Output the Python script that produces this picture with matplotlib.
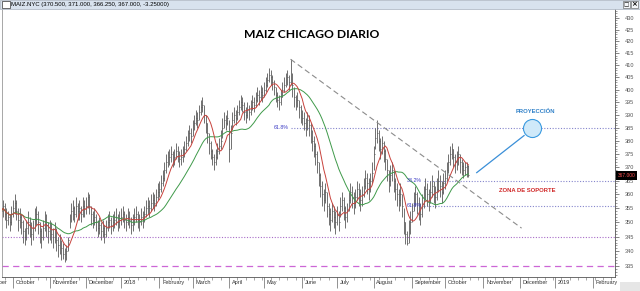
import numpy as np
import pandas as pd
import matplotlib
matplotlib.use("Agg")
import matplotlib.pyplot as plt
import matplotlib.transforms as mtransforms
from matplotlib.patches import Rectangle
from matplotlib.ticker import FixedLocator, FixedFormatter, NullFormatter

# Daily bars MAIZ.NYC, 21-Sep-2017 .. 19-Oct-2018 (one row per month)
high = [
    357, 358, 357, 355, 354, 353, 356,
    358, 360, 358, 355, 355, 353, 351, 348, 351, 354, 352, 350, 351, 355, 356, 354, 350, 348, 351, 354, 353, 350,
    351, 350, 348, 350, 348, 345, 346, 344, 343, 341, 342, 345, 353, 357, 358, 356, 359, 357, 358, 356, 359, 358,
    359, 361, 360, 356, 354, 355, 353, 351, 352, 350, 351, 349, 351, 353, 354, 352, 353, 354, 355, 353, 354,
    355, 356, 354, 353, 355, 354, 352, 353, 355, 356, 354, 353, 355, 354, 356, 358, 359, 358, 360, 361, 360, 362, 364,
    365, 367, 369, 372, 375, 376, 377, 378, 376, 377, 379, 378, 376, 377, 378, 380, 382, 384, 386, 385,
    388, 390, 392, 391, 394, 396, 397, 394, 390, 387, 383, 380, 377, 375, 377, 379, 381, 384, 389, 391, 390, 392,
    388, 386, 391, 393, 392, 394, 396, 398, 397, 395, 393, 395, 394, 396, 398, 397, 399, 401, 400, 402, 401,
    403, 405, 407, 409, 408, 406, 404, 401, 399, 398, 400, 403, 405, 407, 408, 406, 412.5, 407, 401, 398, 399, 396, 394,
    392, 391, 389, 391, 390, 387, 384, 382, 379, 376, 372, 368, 365, 362, 364, 361, 357, 355, 357, 356, 354,
    356, 354, 359, 361, 359, 356, 357, 361, 364, 363, 361, 362, 365, 364, 362, 363, 366, 369, 368, 366, 368, 372,
    378, 385, 388, 384, 381, 382, 380, 377, 373, 369, 371, 372, 369, 366, 364, 362, 364, 360, 355, 350, 347, 351, 354,
    357, 361, 363, 361, 359, 357, 360, 363, 366, 364, 362, 365, 367, 365, 363, 366, 369, 367, 365, 368,
    369, 372, 375, 378, 379, 377, 375, 376, 378, 375, 373, 372, 372, 372, 371,
]
low = [
    351, 352, 351, 348, 349, 347, 349,
    352, 353, 351, 347, 348, 346, 343, 342, 344, 346, 345, 342, 344, 347, 349, 346, 343, 341, 344, 347, 345, 343,
    344, 343, 341, 343, 340, 338, 339, 337, 337.5, 336.5, 337, 340, 348, 350, 351, 350, 352, 351, 351, 350, 352, 352,
    353, 355, 353, 349, 348, 349, 347, 345, 346, 344, 345, 343, 345, 347, 348, 346, 347, 348, 349, 347, 348,
    349, 350, 348, 347, 349, 348, 346, 347, 349, 350, 348, 347, 349, 348, 350, 352, 353, 352, 354, 355, 354, 356, 358,
    359, 361, 363, 365, 368, 370, 371, 372, 370, 371, 373, 372, 370, 371, 372, 374, 376, 378, 380, 379,
    382, 384, 386, 385, 388, 390, 391, 387, 383, 379, 375, 373, 371, 369, 371, 373, 375, 377, 381, 385, 384, 386,
    372, 377, 384, 387, 386, 388, 390, 392, 391, 388, 387, 389, 388, 390, 392, 391, 393, 395, 394, 396, 395,
    397, 399, 401, 403, 402, 400, 398, 395, 393, 392, 394, 397, 399, 401, 402, 400, 402, 397, 393, 392, 393, 389, 387,
    386, 384, 382, 384, 382, 379, 376, 374, 371, 368, 363, 359, 356, 354, 357, 352, 349, 347, 350, 348, 346,
    349, 347, 352, 354, 351, 348, 350, 354, 357, 355, 353, 355, 358, 356, 354, 356, 359, 362, 360, 358, 361, 364,
    369, 377, 379, 376, 373, 375, 372, 369, 365, 361, 363, 365, 361, 358, 356, 354, 356, 352, 346, 342.5, 342, 343, 346,
    350, 354, 356, 353, 351, 349, 352, 355, 358, 356, 354, 357, 359, 357, 355, 358, 361, 359, 357, 360,
    362, 365, 368, 371, 373, 370, 368, 369, 371, 368, 367, 366, 367, 366.5, 366.25,
]
close = [
    354, 356, 353, 351, 352, 350, 353,
    355, 357, 354, 351, 352, 350, 347, 345, 348, 350, 349, 346, 348, 351, 353, 350, 347, 345, 348, 351, 349, 347,
    348, 346, 345, 347, 344, 342, 343, 341, 339, 338, 340, 344, 351, 354, 355, 353, 356, 354, 355, 353, 356, 355,
    356, 359, 356, 353, 351, 352, 350, 348, 349, 347, 348, 346, 348, 350, 351, 349, 350, 351, 352, 350, 351,
    352, 353, 351, 350, 352, 351, 349, 350, 352, 353, 351, 350, 352, 351, 353, 355, 356, 355, 357, 358, 357, 359, 361,
    362, 364, 366, 369, 372, 373, 374, 375, 373, 374, 376, 375, 373, 374, 375, 377, 379, 381, 383, 382,
    385, 387, 389, 388, 391, 393, 394, 390, 387, 383, 379, 376, 374, 372, 374, 376, 378, 380, 385, 388, 387, 389,
    377, 383, 388, 390, 389, 391, 393, 395, 394, 391, 390, 392, 391, 393, 395, 394, 396, 398, 397, 399, 398,
    400, 402, 404, 406, 405, 403, 401, 398, 396, 395, 397, 400, 402, 404, 405, 403, 408, 402, 397, 395, 396, 393, 391,
    389, 387, 385, 388, 386, 383, 380, 378, 375, 372, 367, 363, 360, 358, 361, 356, 353, 351, 354, 352, 350,
    353, 350, 356, 358, 355, 352, 354, 358, 361, 359, 357, 359, 362, 360, 358, 360, 363, 366, 364, 362, 365, 368,
    375, 381, 383, 380, 377, 379, 376, 373, 369, 365, 367, 369, 365, 362, 360, 358, 360, 356, 350, 346, 343, 347, 350,
    354, 358, 360, 357, 355, 353, 356, 359, 362, 360, 358, 361, 363, 361, 359, 362, 365, 363, 361, 364,
    366, 369, 372, 375, 377, 374, 372, 373, 375, 372, 370.5, 369, 370, 370.5, 367,
]

first_day = "2017-09-21"
last_day = "2019-02-28"
header = "MAIZ.NYC (370.500, 371.000, 366.250, 367.000, -3.25000)"

# retracement levels drawn as dotted lines
fib_levels = [385, 365, 356]
fib_names = ["61.8%", "38.2%", "61.8%"]
fib_start = [174, 254, 254]
support = 345
bottom_band = 335

# hand drawn lines
trend_days = [174, 313]
trend_prices = [412.5, 348]
proj_days = [286, 314.5]
proj_prices = [368, 382]
target_day, target_price = 319.5, 385

ma_fast = 8
ma_slow = 25


def main():
    plt.rcParams['font.family'] = ['Liberation Sans', 'DejaVu Sans']

    days = pd.bdate_range(first_day, last_day)
    x = np.arange(len(close))
    s = pd.Series(close, dtype=float)
    fast = s.rolling(ma_fast, min_periods=1).mean()
    slow = s.rolling(ma_slow, min_periods=1).mean()

    fig = plt.figure(figsize=(6.4, 2.91), dpi=100)
    ax = fig.add_axes([2 / 640, 14 / 291, 613 / 640, 268 / 291])
    x0, x1 = 0.38, 369.2

    # price bars
    ax.vlines(x, low, high, colors="#5a5a5a", lw=0.6, zorder=3)
    ax.hlines(close, x, x + 0.55, colors="#5a5a5a", lw=0.6, zorder=3)
    ax.plot(x, slow, color="#3f9a4a", lw=0.7, zorder=4)
    ax.plot(x, fast, color="#c8423c", lw=0.7, zorder=4)

    # levels
    for lev, name, start in zip(fib_levels, fib_names, fib_start):
        ax.hlines(lev, start, x1, colors="#8585cc", linestyles=(0, (1, 1.5)), lw=0.8, zorder=2)
        ax.text(start - 1, lev, name, color="#3b3bc4", fontsize=3.8, ha="right", va="center", zorder=5)
    ax.axhline(support, color="#a86cc8", ls=(0, (1, 1.5)), lw=0.8, zorder=2)
    ax.axhline(bottom_band, color="#cc66d6", ls=(0, (5, 3.5)), lw=0.9, zorder=2)

    # trend line and projection
    ax.plot(trend_days, trend_prices, color="#8c8c8c", lw=0.8, ls=(0, (5, 3)), zorder=5)
    ax.plot(proj_days, proj_prices, color="#3a8fd8", lw=0.9, zorder=5)
    ax.plot(target_day, target_price, "o", ms=13, mfc="#cfe9f9", mec="#3a9ae0", mew=0.8, zorder=6)
    ax.text(321, 391.2, "PROYECCIÓN", color="#2f80c8", fontsize=4.2, fontweight="bold",
            ha="center", va="center")
    ax.text(316.5, 361.6, "ZONA DE SOPORTE", color="#d02828", fontsize=4.2, fontweight="bold",
            ha="center", va="center")

    # y axis on the right, log scale
    ax.set_yscale("log")
    ax.set_ylim(331.3, 433.9)
    ax.set_xlim(x0, x1)
    ax.yaxis.tick_right()
    major = list(range(335, 431, 5))
    ax.yaxis.set_major_locator(FixedLocator(major))
    ax.yaxis.set_major_formatter(FixedFormatter([str(v) for v in major]))
    ax.yaxis.set_minor_locator(FixedLocator([v for v in range(332, 434) if v % 5]))
    ax.yaxis.set_minor_formatter(NullFormatter())
    ax.tick_params(axis="y", which="major", length=3, width=0.5, color="#555555",
                   labelsize=4, labelcolor="#555555", pad=4)
    ax.tick_params(axis="y", which="minor", length=1.5, width=0.4, color="#555555")

    # x axis: months
    pos, names = [], []
    for i in range(1, len(days)):
        if days[i].month != days[i - 1].month:
            pos.append(i)
            names.append(str(days[i].year) if days[i].month == 1 else days[i].strftime("%B"))
    mondays = [i for i, d in enumerate(days) if d.weekday() == 0]
    ax.xaxis.set_major_locator(FixedLocator(pos))
    ax.xaxis.set_major_formatter(FixedFormatter(names))
    ax.xaxis.set_minor_locator(FixedLocator(mondays))
    ax.tick_params(axis="x", which="major", length=8, width=0.5, color="#666666",
                   labelsize=4, labelcolor="#333333", pad=-5.5)
    ax.tick_params(axis="x", which="minor", length=2, width=0.4, color="#666666")
    shift = mtransforms.ScaledTranslation(2 / 72, 0, fig.dpi_scale_trans)
    for lab in ax.get_xticklabels():
        lab.set_ha("left")
        lab.set_transform(lab.get_transform() + shift)
    # September 2017 starts left of the view, only its tail shows
    trans = mtransforms.blended_transform_factory(ax.transData, ax.transAxes)
    ax.text(-14, -0.01, "September", transform=trans + shift, fontsize=4, color="#333333",
            ha="left", va="top", clip_on=False)

    for side in ["left", "right", "bottom"]:
        ax.spines[side].set_linewidth(0.6)
        ax.spines[side].set_color("#555555")
    ax.spines["left"].set_color("#999999")
    ax.spines["top"].set_visible(False)

    # last price marker
    blend = mtransforms.blended_transform_factory(ax.transAxes, ax.transData)
    ax.text(1.004, close[-1], "%.3f" % close[-1], transform=blend, fontsize=3.5, color="#ff5050",
            ha="left", va="center", clip_on=False,
            bbox=dict(boxstyle="square,pad=0.35", fc="black", ec="none"))

    # window header
    fig.add_artist(Rectangle((0, 1 - 9 / 291), 1, 9 / 291, transform=fig.transFigure,
                             facecolor="#d8e2ee", edgecolor="#a8b2be", lw=0.5))
    fig.add_artist(Rectangle((2 / 640, 1 - 7.5 / 291), 8 / 640, 6 / 291, transform=fig.transFigure,
                             facecolor="white", edgecolor="#333333", lw=0.5))
    fig.text(11 / 640, 1 - 4.5 / 291, header, fontsize=4.3, ha="left", va="center")
    for bx in [623, 631]:
        fig.add_artist(Rectangle((bx / 640, 1 - 8 / 291), 7 / 640, 7 / 291, transform=fig.transFigure,
                                 facecolor="#f4f6f9", edgecolor="#555555", lw=0.4))
    fig.text(626.5 / 640, 1 - 4.5 / 291, "\u25a1", fontsize=4, family="DejaVu Sans",
             ha="center", va="center")
    fig.text(634.5 / 640, 1 - 4.5 / 291, "\u00d7", fontsize=5, family="DejaVu Sans",
             fontweight="bold", ha="center", va="center")
    fig.add_artist(Rectangle((620 / 640, 0), 20 / 640, 9 / 291, transform=fig.transFigure,
                             facecolor="#e6e6e6", edgecolor="none"))

    fig.text(312 / 640, 1 - 35 / 291, "MAIZ CHICAGO DIARIO", fontsize=8.7, fontweight="bold",
             family="Lato", ha="center", va="center")

    fig.savefig("out.png", dpi=100)


if __name__ == "__main__":
    main()
